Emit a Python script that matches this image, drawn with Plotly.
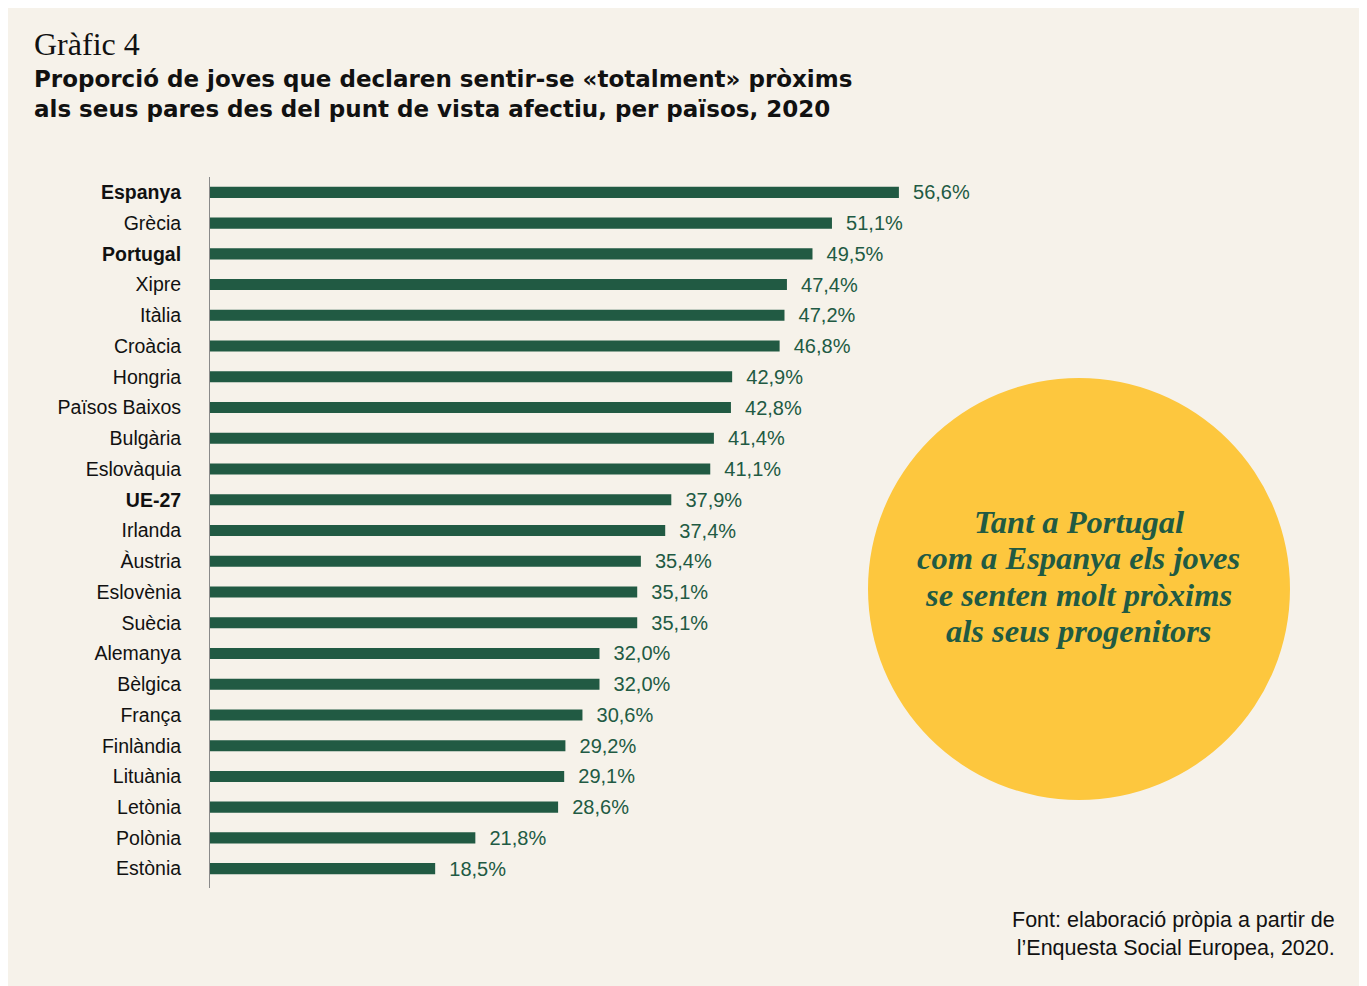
import plotly.graph_objects as go

countries = ["Espanya", "Grècia", "Portugal", "Xipre", "Itàlia", "Croàcia", "Hongria",
             "Països Baixos", "Bulgària", "Eslovàquia", "UE-27", "Irlanda", "Àustria",
             "Eslovènia", "Suècia", "Alemanya", "Bèlgica", "França", "Finlàndia",
             "Lituània", "Letònia", "Polònia", "Estònia"]
values = [56.6, 51.1, 49.5, 47.4, 47.2, 46.8, 42.9, 42.8, 41.4, 41.1, 37.9, 37.4, 35.4,
          35.1, 35.1, 32.0, 32.0, 30.6, 29.2, 29.1, 28.6, 21.8, 18.5]
bold_countries = ["Espanya", "Portugal", "UE-27"]
callout_lines = ["Tant a Portugal", "com a Espanya els joves",
                 "se senten molt pròxims", "als seus progenitors"]

tick_text = [f"<b>{c}</b>" if c in bold_countries else c for c in countries]

BG = "#F6F2EA"
GREEN = "#215A43"
YELLOW = "#FDC73E"

fig = go.Figure()
fig.add_trace(go.Bar(
    x=values, y=countries, orientation="h",
    marker=dict(color=GREEN, line=dict(width=0)),
    width=0.36,
    text=values,
    texttemplate="\u00a0\u00a0%{x:.1f}%",
    textposition="outside",
    constraintext="none",
    textfont=dict(family="Liberation Sans", size=20, color=GREEN),
    cliponaxis=False,
    hoverinfo="skip",
))

annotations = [
    dict(text="Gràfic 4", xref="paper", yref="paper", x=-0.2089, y=1.1871,
         xanchor="left", yanchor="middle", showarrow=False,
         font=dict(family="Liberation Serif", size=32, color="#111111")),
    dict(text="<b>Proporció de joves que declaren sentir-se «totalment» pròxims<br>"
              "als seus pares des del punt de vista afectiu, per països, 2020</b>",
         xref="paper", yref="paper", x=-0.2089, y=1.1167,
         xanchor="left", yanchor="middle", align="left", showarrow=False,
         font=dict(family="DejaVu Sans", size=23, color="#111111")),
    dict(text="Font: elaboració pròpia a partir de<br>l’Enquesta Social Europea, 2020.",
         xref="paper", yref="paper", x=1.3227, y=-0.0647,
         xanchor="right", yanchor="middle", align="right", showarrow=False,
         font=dict(family="Liberation Sans", size=21.5, color="#111111")),
]
callout_y = [0.5148, 0.4641, 0.4121, 0.3615]
for line, yy in zip(callout_lines, callout_y):
    annotations.append(dict(
        text=f"<b><i>{line}</i></b>", xref="paper", yref="paper", x=1.0194, y=yy,
        xanchor="center", yanchor="middle", showarrow=False,
        font=dict(family="Liberation Serif", size=32.5, color=GREEN)))

fig.update_layout(
    width=1359, height=978,
    paper_bgcolor=BG, plot_bgcolor=BG,
    margin=dict(l=202, r=305, t=169, b=98),
    separators=",.",
    showlegend=False,
    xaxis=dict(range=[0, 70], visible=False, fixedrange=True),
    yaxis=dict(
        categoryorder="array", categoryarray=countries,
        range=[22.63, -0.5],
        tickmode="array", tickvals=countries, ticktext=tick_text,
        tickfont=dict(family="Liberation Sans", size=19.5, color="#111111"),
        showline=True, linecolor="#8a8a8a", linewidth=1,
        showgrid=False, zeroline=False, ticks="",
        ticklabelstandoff=24,
    ),
    shapes=[dict(
        type="circle", xref="paper", yref="paper",
        x0=0.7723, x1=1.2676, y0=0.1238, y1=0.7173,
        fillcolor=YELLOW, line=dict(width=0), layer="below",
    )],
    annotations=annotations,
)

fig.write_html("out.html")
